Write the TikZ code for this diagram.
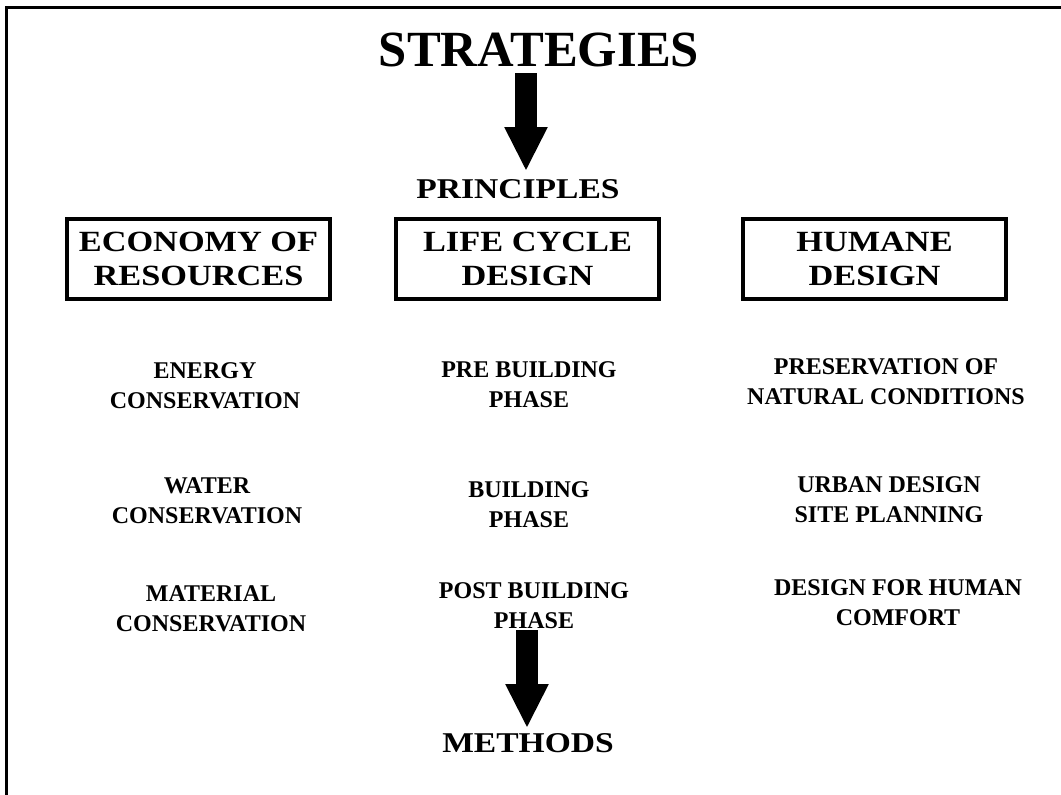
\documentclass[tikz,border=0pt]{standalone}
\usepackage{graphicx}
\usepackage{fontspec}
\setmainfont{Liberation Serif}
\usetikzlibrary{arrows.meta}

% bold heads are set a little wider than the font
\newcommand{\wide}[1]{\scalebox{1.17}[1]{#1}}

\begin{document}
\begin{tikzpicture}[x=0.75pt,y=-0.75pt,
		item/.style={inner sep=0pt, align=center, font=\bfseries\fontsize{18}{22.5}\selectfont},
		head/.style={draw, line width=3pt, minimum width=197pt, minimum height=60pt, inner sep=0pt, align=center, font=\bfseries\fontsize{22}{25.5}\selectfont},
		title/.style={inner sep=0pt, font=\bfseries\fontsize{21.5}{24}\selectfont},
		bigarrow/.style={line width=16pt, -{Triangle[width=30pt,length=33pt]}}]
		\useasboundingbox (0,0) rectangle (1061,794);
		\clip (0,0) rectangle (1061,794);
		\draw[line width=2.25pt] (6,820) |- (1080,7);
		
		\node[inner sep=0pt, font=\bfseries\fontsize{38}{40}\selectfont] (strat) at (539,49.5) {STRATEGIES};
		\node[title] (prin) at (518,189) {\wide{PRINCIPLES}};
		
		\node[head] (econ) at (198.5,259) {\wide{ECONOMY OF}\\\wide{RESOURCES}};
		\node[head] (life) at (527.5,259) {\wide{LIFE CYCLE}\\\wide{DESIGN}};
		\node[head] (humane) at (874.5,259) {\wide{HUMANE}\\\wide{DESIGN}};
		
		\node[item] (energy) at (205,386) {ENERGY\\CONSERVATION};
		\node[item] (water) at (207,501) {WATER\\CONSERVATION};
		\node[item] (material) at (211,609) {MATERIAL\\CONSERVATION};
		
		\node[item] (pre) at (529,385) {PRE BUILDING\\PHASE};
		\node[item] (build) at (529,505) {BUILDING\\PHASE};
		\node[item] (post) at (534,605.5) {POST BUILDING\\PHASE};
		
		\node[item] (preserve) at (886,381.5) {PRESERVATION OF\\NATURAL CONDITIONS};
		\node[item] (urban) at (889,500) {URBAN DESIGN\\SITE PLANNING};
		\node[item] (comfort) at (898,603) {DESIGN FOR HUMAN\\COMFORT};
		
		\node[title] (meth) at (528,743) {\wide{METHODS}};
		
		\coordinate (s0) at (526,73);
		\coordinate (m0) at (527,630);
		\draw[bigarrow, shorten >=6pt] (s0) -- (s0 |- prin.north);
		\draw[bigarrow, shorten >=3.75pt] (m0) -- (m0 |- meth.north);
\end{tikzpicture}
\end{document}
